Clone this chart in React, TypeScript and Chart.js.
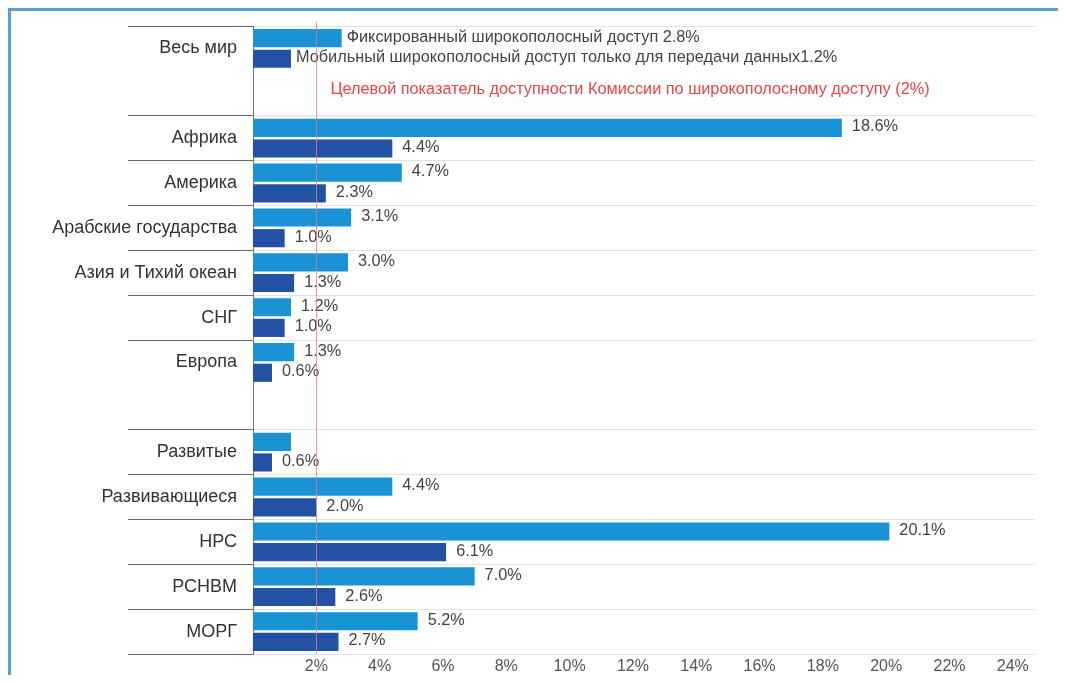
import React, { useEffect, useRef } from "react";
import { Chart, registerables } from "chart.js";

Chart.register(...registerables);

const categories = [
  "Весь мир",
  "",
  "Африка",
  "Америка",
  "Арабские государства",
  "Азия и Тихий океан",
  "СНГ",
  "Европа",
  "",
  "Развитые",
  "Развивающиеся",
  "НРС",
  "РСНВМ",
  "МОРГ",
];
const fixedValues = [2.8, null, 18.6, 4.7, 3.1, 3.0, 1.2, 1.3, null, 1.2, 4.4, 20.1, 7.0, 5.2];
const mobileValues = [1.2, null, 4.4, 2.3, 1.0, 1.3, 1.0, 0.6, null, 0.6, 2.0, 6.1, 2.6, 2.7];
const fixedName = "Фиксированный широкополосный доступ";
const mobileName = "Мобильный широкополосный доступ только для передачи данных";
const targetValue = 2;
const targetText = "Целевой показатель доступности Комиссии по широкополосному доступу (2%)";
const xTickValues = [2, 4, 6, 8, 10, 12, 14, 16, 18, 20, 22, 24];
const separatorIndexes = [0, 2, 3, 4, 5, 6, 7, 9, 10, 11, 12, 13, 14];
const hiddenFixedLabelIndexes = [9];

const FONT = "'Liberation Sans', Arial, sans-serif";

const fmt = (v: number) => v.toFixed(1) + "%";
const fixedLabels = fixedValues.map((v, i) =>
  v == null || hiddenFixedLabelIndexes.includes(i) ? "" : i === 0 ? `${fixedName} ${fmt(v)}` : fmt(v)
);
const mobileLabels = mobileValues.map((v, i) =>
  v == null ? "" : i === 0 ? `${mobileName}${fmt(v)}` : fmt(v)
);

const overlayPlugin = {
  id: "overlay",
  afterDatasetsDraw(chart: any) {
    const { ctx, chartArea, scales } = chart;
    const xs = scales.x;
    const ys = scales.y;
    ctx.save();
    ctx.font = `16.3px ${FONT}`;
    ctx.fillStyle = "#444";
    ctx.textAlign = "left";
    ctx.textBaseline = "middle";
    const labelSets = [fixedLabels, mobileLabels];
    chart.data.datasets.forEach((ds: any, di: number) => {
      const meta = chart.getDatasetMeta(di);
      meta.data.forEach((bar: any, i: number) => {
        const txt = labelSets[di][i];
        if (!txt) return;
        const off = i === 0 ? 5 : 10;
        ctx.fillText(txt, bar.x + off, bar.y - 1);
      });
    });
    const tx = Math.round(xs.getPixelForValue(targetValue)) + 0.5;
    ctx.strokeStyle = "rgba(240, 120, 130, 0.8)";
    ctx.lineWidth = 1;
    ctx.beginPath();
    ctx.moveTo(tx, chartArea.top - 4);
    ctx.lineTo(tx, chartArea.bottom);
    ctx.stroke();
    ctx.fillStyle = "#e8434a";
    ctx.font = `16.3px ${FONT}`;
    ctx.fillText(targetText, tx + 14, ys.getPixelForValue(1) - 4);
    ctx.restore();
  },
};

export default function App() {
  const canvasRef = useRef<HTMLCanvasElement | null>(null);

  useEffect(() => {
    if (!canvasRef.current) return;
    const isSep = (c: any) => c.index === undefined || separatorIndexes.includes(c.index);
    const chart = new Chart(canvasRef.current, {
      type: "bar",
      data: {
        labels: categories,
        datasets: [
          {
            label: fixedName,
            data: fixedValues,
            backgroundColor: "#1a93d4",
            categoryPercentage: 0.92,
            barPercentage: 0.88,
          },
          {
            label: mobileName,
            data: mobileValues,
            backgroundColor: "#2352a5",
            categoryPercentage: 0.92,
            barPercentage: 0.88,
          },
        ],
      },
      options: {
        indexAxis: "y",
        animation: false,
        responsive: true,
        maintainAspectRatio: false,
        layout: { padding: { left: 10, right: 31, top: 15, bottom: 0 } },
        plugins: {
          legend: { display: false },
          tooltip: { enabled: false },
        },
        scales: {
          x: {
            min: 0,
            max: 24.7,
            grid: { display: false, drawTicks: false },
            border: { display: false },
            afterBuildTicks: (s: any) => {
              s.ticks = xTickValues.map((v) => ({ value: v }));
            },
            afterFit: (s: any) => {
              s.height = 21;
            },
            ticks: {
              padding: 3,
              color: "#555",
              font: { family: FONT, size: 16 },
              callback: (v: any) => v + "%",
              maxRotation: 0,
              autoSkip: false,
            },
          },
          y: {
            offset: true,
            grid: {
              offset: true,
              color: (c: any) => (isSep(c) ? "#e2e2e2" : "rgba(0,0,0,0)"),
              tickColor: (c: any) => (isSep(c) ? "#6a6a6a" : "rgba(0,0,0,0)"),
              tickLength: 125,
              lineWidth: 1,
            },
            border: { display: true, color: "#777", width: 1 },
            afterFit: (s: any) => {
              s.width = 232;
            },
            ticks: {
              padding: -109,
              color: "#333",
              font: { family: FONT, size: 18 },
              autoSkip: false,
            },
          },
        },
      },
      plugins: [overlayPlugin],
    });
    return () => chart.destroy();
  }, []);

  return (
    <div
      style={{
        width: 1058,
        height: 667,
        boxSizing: "border-box",
        borderTop: "3px solid #5c9ed8",
        borderLeft: "3px solid #5c9ed8",
        position: "relative",
        background: "#fff",
      }}
    >
      <div style={{ position: "absolute", left: 0, top: 0, width: 1055, height: 664 }}>
        <canvas ref={canvasRef} />
      </div>
    </div>
  );
}
